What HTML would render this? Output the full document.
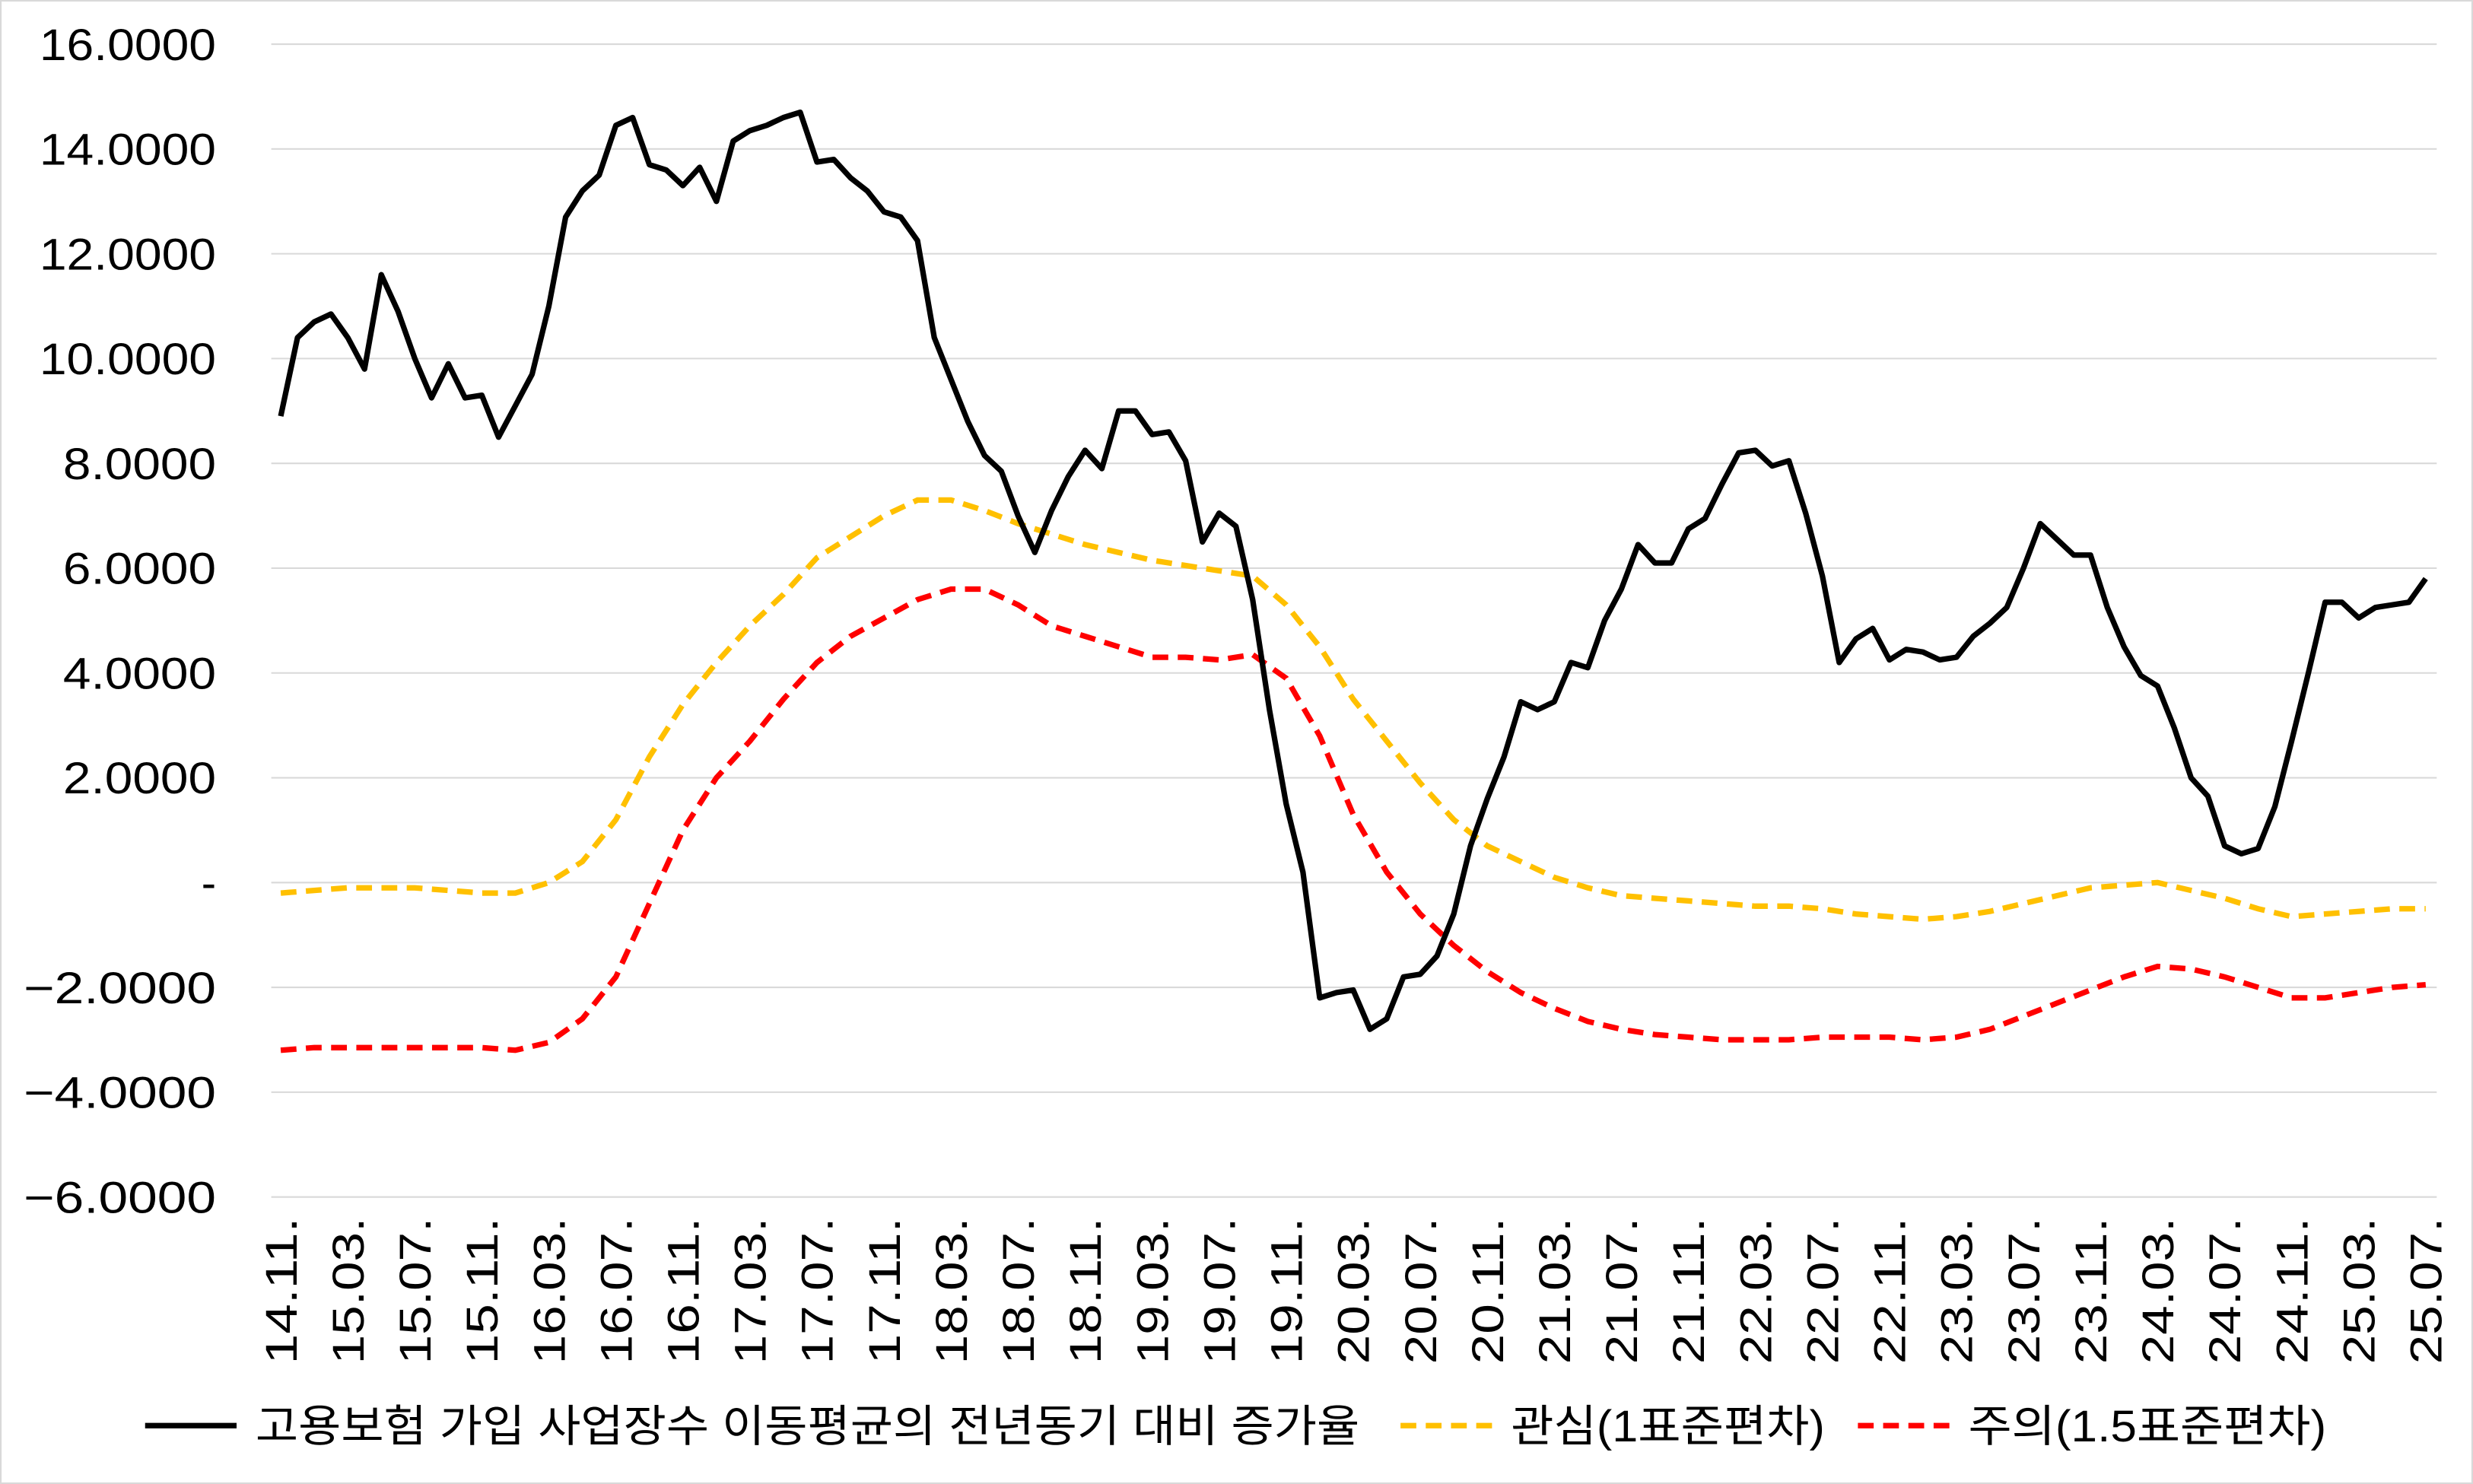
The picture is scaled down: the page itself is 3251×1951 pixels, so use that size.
<!DOCTYPE html>
<html><head><meta charset="utf-8">
<style>
html,body{margin:0;padding:0;background:#fff;}
svg{display:block;}
text{font-family:"Liberation Sans","Noto Sans CJK KR","NanumGothic",sans-serif;fill:#000;}
</style></head>
<body>
<svg id="chart" width="3251" height="1951" viewBox="0 0 1568 941" preserveAspectRatio="none" xmlns="http://www.w3.org/2000/svg">
<rect x="0.5" y="0.5" width="1567" height="940" fill="#fff" stroke="#d9d9d9" stroke-width="1"/>
<g id="grid"></g>
<g id="yaxis"></g>
<g id="xaxis"></g>
<g id="series"></g>
<g id="legend">
  <line x1="92" y1="904" x2="150" y2="904" stroke="#000" stroke-width="3.5"/>
  <text x="162" y="914" font-size="28" textLength="700" lengthAdjust="spacingAndGlyphs">고용보험 가입 사업장수 이동평균의 전년동기 대비 증가율</text>
  <line x1="888" y1="904" x2="946" y2="904" stroke="#FFC000" stroke-width="3.5" stroke-dasharray="10,6"/>
  <text x="958" y="914" font-size="28" textLength="199" lengthAdjust="spacingAndGlyphs">관심(1표준편차)</text>
  <line x1="1178" y1="904" x2="1236" y2="904" stroke="#FF0000" stroke-width="3.5" stroke-dasharray="10,6"/>
  <text x="1248" y="914" font-size="28" textLength="227" lengthAdjust="spacingAndGlyphs">주의(1.5표준편차)</text>
</g>
</svg>
<script>
const xLabels = ["14.11.","15.03.","15.07.","15.11.","16.03.","16.07.","16.11.","17.03.","17.07.","17.11.","18.03.","18.07.","18.11.","19.03.","19.07.","19.11.","20.03.","20.07.","20.11.","21.03.","21.07.","21.11.","22.03.","22.07.","22.11.","23.03.","23.07.","23.11.","24.03.","24.07.","24.11.","25.03.","25.07."];
const yTicks = [16,14,12,10,8,6,4,2,0,-2,-4,-6];
const growth = [8.9,10.4,10.7,10.85,10.4,9.8,11.6,10.9,10.0,9.25,9.9,9.25,9.3,8.5,9.1,9.7,11.0,12.7,13.2,13.5,14.45,14.6,13.7,13.6,13.3,13.65,13.0,14.15,14.35,14.45,14.6,14.7,13.75,13.8,13.45,13.2,12.8,12.7,12.25,10.4,9.6,8.8,8.15,7.85,7.0,6.3,7.1,7.75,8.25,7.9,9.0,9.0,8.55,8.6,8.05,6.5,7.05,6.8,5.4,3.3,1.5,0.2,-2.2,-2.1,-2.05,-2.8,-2.6,-1.8,-1.75,-1.4,-0.6,0.7,1.6,2.4,3.45,3.3,3.45,4.2,4.1,5.0,5.6,6.45,6.1,6.1,6.75,6.95,7.6,8.2,8.25,7.95,8.05,7.05,5.85,4.2,4.65,4.85,4.25,4.45,4.4,4.25,4.3,4.7,4.95,5.25,6.0,6.85,6.55,6.25,6.25,5.25,4.5,3.95,3.75,2.95,2.0,1.65,0.7,0.55,0.65,1.45,2.7,4.0,5.35,5.35,5.05,5.25,5.3,5.35,5.8];
// threshold series sampled every 2 months (month index = 2*k)
const caution = [-0.2,-0.15,-0.1,-0.1,-0.1,-0.15,-0.2,-0.2,0.0,0.4,1.2,2.4,3.4,4.2,4.9,5.5,6.2,6.6,7.0,7.3,7.3,7.1,6.85,6.65,6.45,6.3,6.15,6.05,5.95,5.85,5.3,4.5,3.5,2.7,1.9,1.2,0.7,0.4,0.1,-0.1,-0.25,-0.3,-0.35,-0.4,-0.45,-0.45,-0.5,-0.6,-0.65,-0.7,-0.65,-0.55,-0.4,-0.25,-0.1,-0.05,0.0,-0.15,-0.3,-0.5,-0.65,-0.6,-0.55,-0.5,-0.5];
const warning = [-3.2,-3.15,-3.15,-3.15,-3.15,-3.15,-3.15,-3.2,-3.05,-2.6,-1.8,-0.4,1.0,2.0,2.7,3.5,4.2,4.7,5.05,5.4,5.6,5.6,5.3,4.9,4.7,4.5,4.3,4.3,4.25,4.35,3.9,2.8,1.3,0.2,-0.6,-1.2,-1.7,-2.1,-2.4,-2.65,-2.8,-2.9,-2.95,-3.0,-3.0,-3.0,-2.95,-2.95,-2.95,-3.0,-2.95,-2.8,-2.55,-2.3,-2.05,-1.8,-1.6,-1.65,-1.8,-2.0,-2.2,-2.2,-2.1,-2.0,-1.95];

const NS="http://www.w3.org/2000/svg";
const X0=178, X1=1538, NM=128, Y16=28, Ym6=759;
function xs(i){return X0+(X1-X0)*i/NM;}
function ys(v){return Y16+(16-v)*(Ym6-Y16)/22;}
function mk(tag,attrs,parent){const e=document.createElementNS(NS,tag);for(const k in attrs)e.setAttribute(k,attrs[k]);parent.appendChild(e);return e;}

const grid=document.getElementById('grid'), yaxis=document.getElementById('yaxis'), xaxis=document.getElementById('xaxis'), series=document.getElementById('series');
yTicks.forEach(t=>{
  const g=mk('line',{x1:172,x2:1545,y1:ys(t),y2:ys(t),stroke:'#d9d9d9','stroke-width':1},grid);
  
  
  const lbl = t===0 ? '-' : (t<0?'\u2212':'')+Math.abs(t).toFixed(4);
  const attrs={x:137,y:ys(t)+10,'font-size':28,'text-anchor':'end'};
  if(t!==0){attrs.textLength = t<0?122:(Math.abs(t)>=10?112:97);attrs.lengthAdjust='spacingAndGlyphs';}
  const tx=mk('text',attrs,yaxis);
  tx.textContent=lbl;
  
  
});
xLabels.forEach((l,k)=>{
  const x=xs(k*4);
  const tx=mk('text',{x:0,y:0,'font-size':28,'text-anchor':'end',textLength:93,lengthAdjust:'spacingAndGlyphs',transform:`translate(${x+10},772) rotate(-90)`},xaxis);
  tx.textContent=l;
  
  
});
function path(vals,step){return vals.map((v,k)=>(k?'L':'M')+xs(k*step).toFixed(2)+','+ys(v).toFixed(2)).join(' ');}
const pc=mk('path',{d:path(caution,2),fill:'none',stroke:'#FFC000','stroke-width':3.5,'stroke-dasharray':'10,6'},series);


const pw=mk('path',{d:path(warning,2),fill:'none',stroke:'#FF0000','stroke-width':3.5,'stroke-dasharray':'10,6'},series);


const pg=mk('path',{d:path(growth,1),fill:'none',stroke:'#000','stroke-width':3.5,'stroke-linejoin':'round'},series);


</script>
</body></html>
